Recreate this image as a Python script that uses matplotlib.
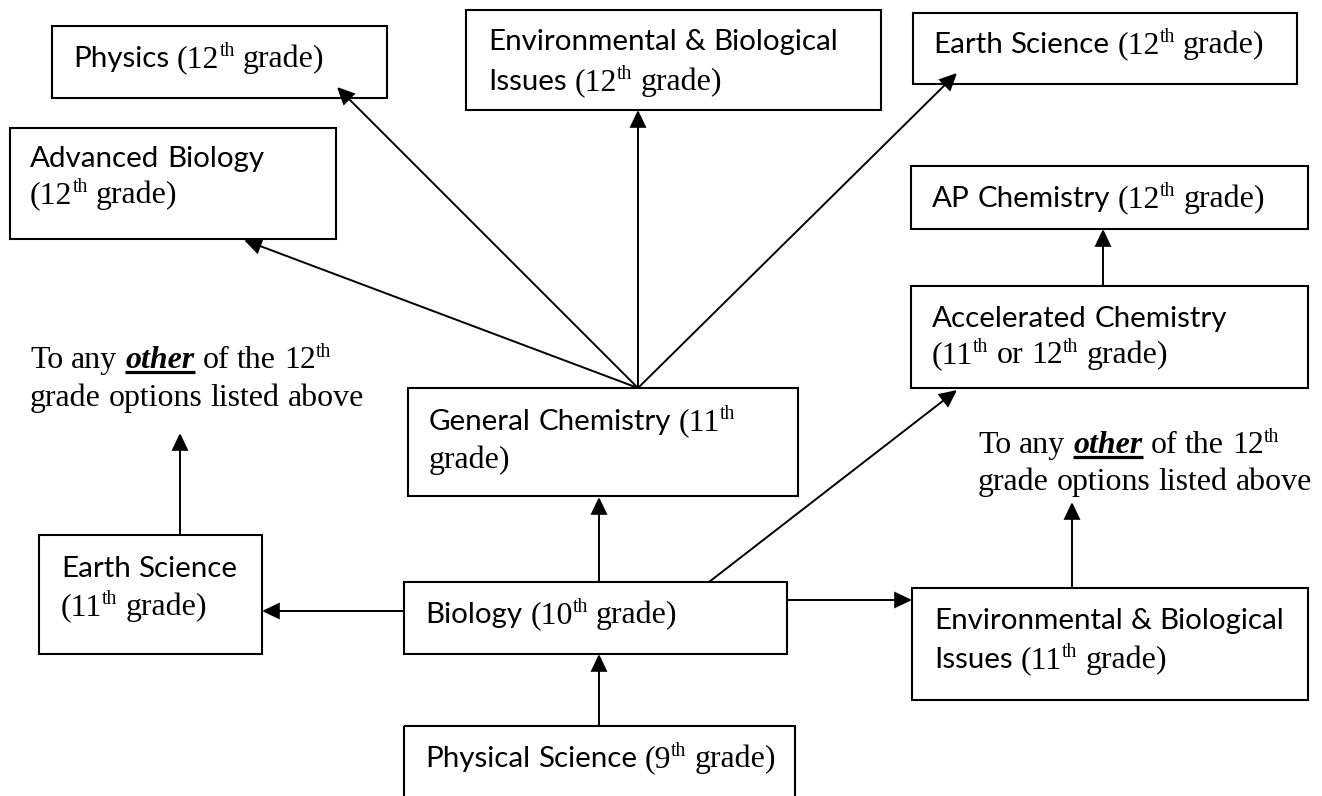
import matplotlib
matplotlib.use('Agg')
import matplotlib.pyplot as plt
from matplotlib.patches import Rectangle, FancyArrowPatch

# ---------------- data ----------------
node_ids = ['phys12', 'env12', 'earth12', 'advbio', 'apchem', 'accel',
            'genchem', 'earth11', 'bio', 'env11', 'physsci']

# label lines: list of (text, kind) runs; kind: sans / serif / sup / ob (bold-italic underlined)
node_labels = {
    'phys12':  [[('Physics', 'sans'), (' (12', 'serif'), ('th', 'sup'), (' grade)', 'serif')]],
    'env12':   [[('Environmental & Biological', 'sans')],
                [('Issues', 'sans'), (' (12', 'serif'), ('th', 'sup'), (' grade)', 'serif')]],
    'earth12': [[('Earth Science', 'sans'), (' (12', 'serif'), ('th', 'sup'), (' grade)', 'serif')]],
    'advbio':  [[('Advanced Biology', 'sans')],
                [('(12', 'serif'), ('th', 'sup'), (' grade)', 'serif')]],
    'apchem':  [[('AP Chemistry', 'sans'), (' (12', 'serif'), ('th', 'sup'), (' grade)', 'serif')]],
    'accel':   [[('Accelerated Chemistry', 'sans')],
                [('(11', 'serif'), ('th', 'sup'), (' or 12', 'serif'), ('th', 'sup'), (' grade)', 'serif')]],
    'genchem': [[('General Chemistry', 'sans'), (' (11', 'serif'), ('th', 'sup')],
                [('grade)', 'serif')]],
    'earth11': [[('Earth Science', 'sans')],
                [('(11', 'serif'), ('th', 'sup'), (' grade)', 'serif')]],
    'bio':     [[('Biology', 'sans'), (' (10', 'serif'), ('th', 'sup'), (' grade)', 'serif')]],
    'env11':   [[('Environmental & Biological', 'sans')],
                [('Issues', 'sans'), (' (11', 'serif'), ('th', 'sup'), (' grade)', 'serif')]],
    'physsci': [[('Physical Science', 'sans'), (' (9', 'serif'), ('th', 'sup'), (' grade)', 'serif')]],
}

note_lines = [[('To any ', 'serif'), ('other', 'ob'), (' of the 12', 'serif'), ('th', 'sup')],
              [('grade options listed above', 'serif')]]

edges = [('genchem', 'phys12'), ('genchem', 'advbio'), ('genchem', 'env12'),
         ('genchem', 'earth12'), ('accel', 'apchem'), ('bio', 'genchem'),
         ('bio', 'accel'), ('bio', 'earth11'), ('bio', 'env11'),
         ('physsci', 'bio'), ('earth11', 'noteL'), ('env11', 'noteR')]

# ---------------- layout (pixel coords, y down) ----------------
W, H, DPI = 1322, 796, 100
box_xy = {
    'phys12': (52, 26, 387, 98), 'env12': (466, 10, 881, 110),
    'earth12': (913, 13, 1297, 84), 'advbio': (10, 128, 336, 239),
    'apchem': (911, 166, 1308, 229), 'accel': (911, 286, 1308, 388),
    'genchem': (408, 388, 798, 496), 'earth11': (39, 535, 262, 654),
    'bio': (404, 582, 787, 654), 'env11': (912, 588, 1308, 700),
    'physsci': (404, 726, 795, 840),
}
text_pos = {
    'phys12': (73, [67]), 'env12': (488, [50, 90]), 'earth12': (933, [53]),
    'advbio': (30, [167, 203]), 'apchem': (932, [207]), 'accel': (932, [327, 363]),
    'genchem': (429, [430, 468]), 'earth11': (61, [577, 615]), 'bio': (425, [623]),
    'env11': (934, [629, 668]), 'physsci': (425, [767]),
    'noteL': (30, [368, 406]), 'noteR': (978, [453, 490]),
}
edge_pts = [((638, 388), (337, 87)), ((638, 388), (244, 240)), ((638, 388), (638, 110)),
            ((638, 388), (957, 73)), ((1103, 286), (1103, 229)), ((599, 582), (599, 497)),
            ((709, 582), (957, 390)), ((403, 611), (262, 611)), ((787, 600), (912, 600)),
            ((599, 726), (599, 654)), ((180, 535), (180, 433)), ((1072, 588), (1072, 502))]

fig = plt.figure(figsize=(W / DPI, H / DPI), dpi=DPI)
ax = fig.add_axes([0, 0, 1, 1])
ax.set_xlim(0, W)
ax.set_ylim(H, 0)
ax.axis('off')
renderer = fig.canvas.get_renderer()

SANS = 'Lato'
SERIF = 'Liberation Serif'


def measure(s, **kw):
    t = ax.text(0, 0, s, **kw)
    w = t.get_window_extent(renderer).width
    t.remove()
    return w


sans_size = 20 * 349 / measure('Environmental & Biological', family=SANS, size=20)
serif_size = 20 * 333 / measure('grade options listed above', family=SERIF, size=20)
sup_size = serif_size * 0.62
sup_raise = serif_size * 100 / 72 * 0.36


def fp(kind):
    if kind == 'sans':
        return dict(family=SANS, size=sans_size)
    if kind == 'serif':
        return dict(family=SERIF, size=serif_size)
    if kind == 'sup':
        return dict(family=SERIF, size=sup_size)
    return dict(family=SERIF, size=serif_size, weight='bold', style='italic')


space_w = {k: measure('n n', **fp(k)) - measure('nn', **fp(k)) for k in ['sans', 'serif', 'sup', 'ob']}


def draw_line(x, y, runs):
    for s, kind in runs:
        parts = s.split(' ')
        for i, p in enumerate(parts):
            if i > 0:
                x += space_w[kind]
            if p:
                dy = -sup_raise if kind == 'sup' else 0
                t = ax.text(x, y + dy, p, ha='left', va='baseline', color='black', **fp(kind))
                w = t.get_window_extent(renderer).width
                if kind == 'ob':
                    ax.plot([x, x + w], [y + 4, y + 4], color='black', lw=2.3,
                            solid_capstyle='butt')
                x += w


for nid in node_ids:
    x0, y0, x1, y1 = box_xy[nid]
    ax.add_patch(Rectangle((x0, y0), x1 - x0, y1 - y0, fill=False, ec='black',
                           lw=1.5, joinstyle='miter'))
    tx, bls = text_pos[nid]
    for line, bl in zip(node_labels[nid], bls):
        draw_line(tx, bl, line)

for key in ['noteL', 'noteR']:
    tx, bls = text_pos[key]
    for line, bl in zip(note_lines, bls):
        draw_line(tx, bl, line)

for (src, dst), (p0, p1) in zip(edges, edge_pts):
    ax.add_patch(FancyArrowPatch(p0, p1, arrowstyle='-|>,head_length=1.05,head_width=0.5',
                                 mutation_scale=10, lw=1.4, color='black',
                                 shrinkA=0, shrinkB=0, joinstyle='miter'))

fig.savefig('out.png', dpi=DPI, facecolor='white')
